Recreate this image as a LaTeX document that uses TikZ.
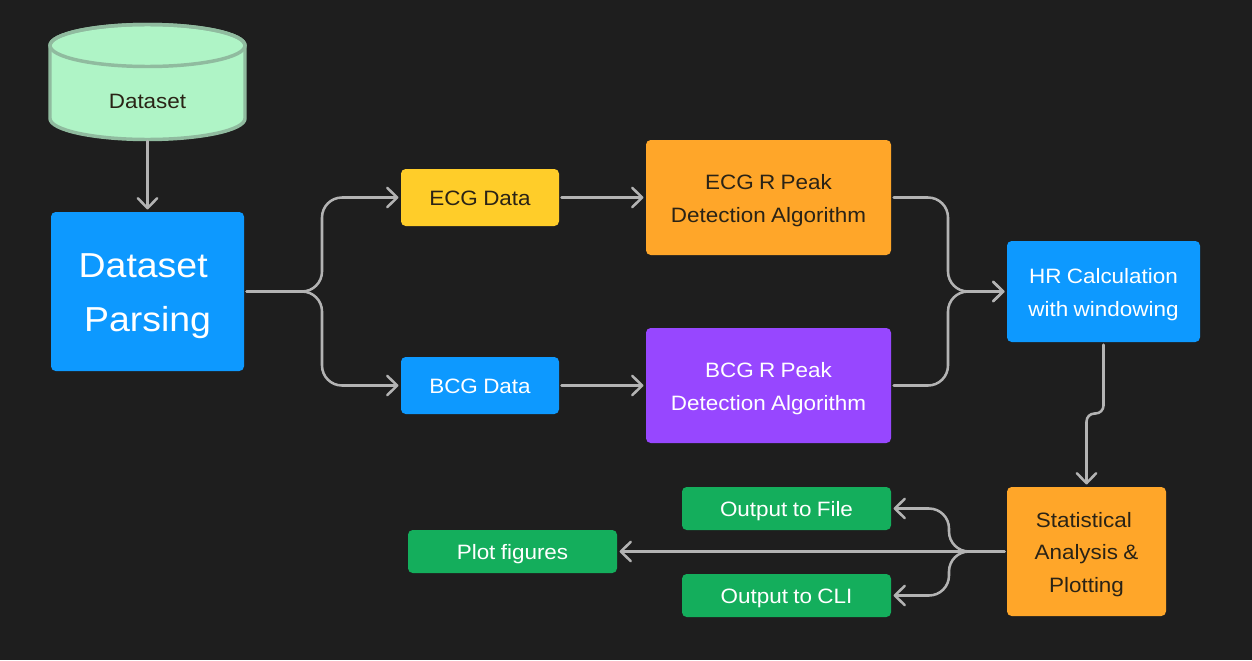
\documentclass[tikz,border=0pt]{standalone}
\usepackage{fontspec}
\setmainfont[FakeStretch=1.08,WordSpace=0.85]{Liberation Sans}
\usetikzlibrary{arrows.meta}
\definecolor{bgc}{HTML}{1E1E1E}
\definecolor{blueb}{HTML}{0D99FF}
\definecolor{orangeb}{HTML}{FFA629}
\definecolor{yellowb}{HTML}{FFCD29}
\definecolor{purpleb}{HTML}{9747FF}
\definecolor{greenb}{HTML}{14AE5C}
\definecolor{mintb}{HTML}{AFF4C6}
\definecolor{mintl}{HTML}{90BB9F}
\definecolor{linec}{HTML}{B3B3B3}
\definecolor{darkt}{HTML}{2A2316}
\tikzset{
  pxbox/.style n args={2}{minimum width=#1*0.75pt,minimum height=#2*0.75pt,inner sep=0pt,outer sep=1.9pt,rounded corners=3.5pt,align=center,anchor=center},
  lab/.style={font=\fontsize{15.6}{24.4}\selectfont,text height=13.4pt,text depth=0.8pt},
  labtwo/.style={lab,text height=37.8pt},
  labthree/.style={lab,text height=62.2pt},
  conn/.style={draw=linec,line width=1.9pt,line cap=round,line join=round,rounded corners=15pt,-{Straight Barb[length=7.5pt,width=14.5pt,round]}},
}
\begin{document}
\begin{tikzpicture}[x=0.75pt,y=-0.75pt]
\useasboundingbox (0,0) rectangle (1252,660);
\fill[bgc] (0,0) rectangle (1252,660);
% cylinder
\filldraw[fill=mintb,draw=mintl,line width=2.6pt,line join=round]
  (50,45.5) -- (50,118.5) arc[start angle=180,end angle=0,x radius=97.5,y radius=21] -- (245,45.5)
  arc[start angle=0,end angle=-180,x radius=97.5,y radius=21] -- cycle;
\draw[draw=mintl,line width=2.6pt] (147.5,45.5) ellipse[x radius=97.5,y radius=21];
\node[pxbox={195}{82},outer sep=0pt,text=darkt,lab] (ds) at (147.5,100) {Dataset};
% boxes
\node[pxbox={193}{159},fill=blueb,text=white,font=\fontsize{26}{40.5}\selectfont,text height=60.5pt,text depth=0.6pt] (parse) at (147.5,291.5) {Dataset\hspace*{6.5pt}\\Parsing};
\node[pxbox={158}{57},fill=yellowb,text=darkt,lab] (ecg) at (480,197.5) {ECG Data};
\node[pxbox={158}{57},fill=blueb,text=white,lab] (bcg) at (480,385.5) {BCG Data};
\node[pxbox={245}{115},fill=orangeb,text=darkt,labtwo] (ecgalg) at (768.5,197.5) {ECG R Peak\\Detection Algorithm};
\node[pxbox={245}{115},fill=purpleb,text=white,labtwo] (bcgalg) at (768.5,385.5) {BCG R Peak\\Detection Algorithm};
\node[pxbox={193}{101},fill=blueb,text=white,labtwo] (hr) at (1103.5,291.5) {HR Calculation\\with windowing};
\node[pxbox={159}{129},fill=orangeb,text=darkt,labthree] (stats) at (1086.5,551.5) {Statistical\hspace*{4pt}\\Analysis \&\hspace*{4pt}\\Plotting};
\node[pxbox={209}{43},fill=greenb,text=white,lab] (file) at (786.5,508.5) {Output to File};
\node[pxbox={209}{43},fill=greenb,text=white,lab] (plot) at (512.5,551.5) {Plot figures};
\node[pxbox={209}{43},fill=greenb,text=white,lab] (cli) at (786.5,595.5) {Output to CLI};
% junction coordinates
\coordinate (split) at (322,291.5);
\coordinate (merge) at (948,291.5);
\coordinate (jog) at (1103.5,413.5);
\coordinate (fan) at (949,551.5);
% connectors
\draw[conn] (ds.south) -- (parse.north);
\draw[conn] (parse.east) -- (split) |- (ecg.west);
\draw[conn] (parse.east) -- (split) |- (bcg.west);
\draw[conn] (ecg.east) -- (ecgalg.west);
\draw[conn] (bcg.east) -- (bcgalg.west);
\draw[conn] (ecgalg.east) -| (merge) -- (hr.west);
\draw[conn] (bcgalg.east) -| (merge) -- (hr.west);
\draw[conn,rounded corners=6pt] (hr.south) -- (jog) -| (stats.north);
\draw[conn] (stats.west) -- (plot.east);
\draw[conn] (stats.west) -- (fan) |- (file.east);
\draw[conn] (stats.west) -- (fan) |- (cli.east);
\end{tikzpicture}
\end{document}
